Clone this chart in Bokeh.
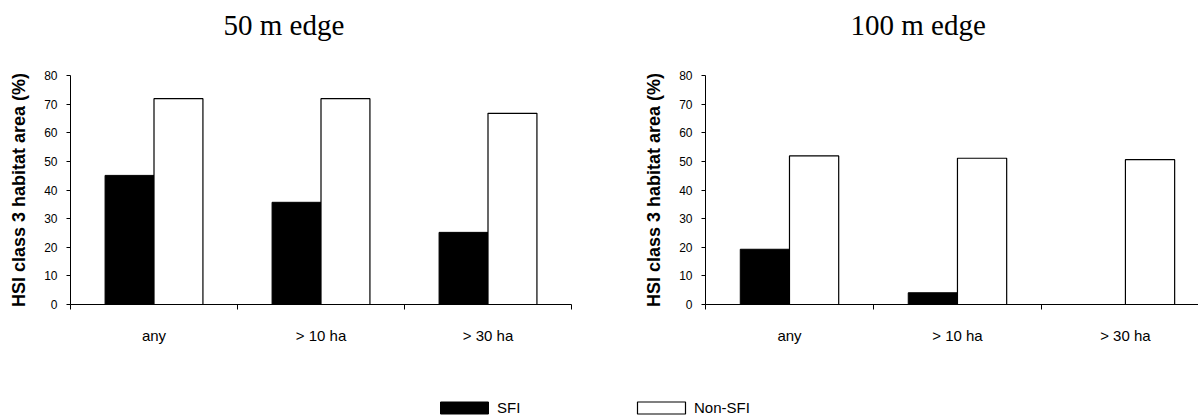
import numpy as np
from bokeh.plotting import figure
from bokeh.models import Range1d, FixedTicker, Legend, LegendItem, Label
from bokeh.layouts import column, row
from bokeh.embed import file_html
from bokeh.resources import INLINE

# ---- data ----
categories = ["any", "> 10 ha", "> 30 ha"]
sfi_50 = [45.1, 35.7, 25.2]
non_sfi_50 = [71.9, 71.9, 66.8]
sfi_100 = [19.3, 4.1, 0.0]
non_sfi_100 = [51.9, 51.1, 50.6]
y_ticks = [0, 10, 20, 30, 40, 50, 60, 70, 80]
titles = ["50 m edge", "100 m edge"]
y_label = "HSI class 3 habitat area (%)"
series_names = ["SFI", "Non-SFI"]

BAR_W = 0.293
SANS = "Liberation Sans"


def make_panel(sfi, non_sfi, width, border_left, border_right, x_end):
    p = figure(width=width, height=287, x_range=Range1d(0, x_end), y_range=Range1d(0, 80),
               toolbar_location=None, output_backend="svg",
               min_border_left=border_left, min_border_right=border_right,
               min_border_top=8, min_border_bottom=50, outline_line_color=None)

    idx = list(range(len(categories)))
    xs_sfi = [i + 0.5 - BAR_W / 2 for i in idx]
    xs_non = [i + 0.5 + BAR_W / 2 for i in idx]
    p.vbar(x=xs_sfi, top=sfi, width=BAR_W, bottom=0, fill_color="black", line_color="black", line_width=1)
    p.vbar(x=xs_non, top=non_sfi, width=BAR_W, bottom=0, fill_color="white", line_color="black", line_width=1.2)

    p.xgrid.visible = False
    p.ygrid.visible = False

    ya = p.yaxis[0]
    ya.ticker = FixedTicker(ticks=y_ticks)
    ya.axis_label = y_label
    ya.axis_label_text_font = SANS
    ya.axis_label_text_font_size = "18px"
    ya.axis_label_text_font_style = "bold"
    ya.axis_label_text_color = "black"
    ya.axis_label_standoff = 12
    ya.major_label_text_font = SANS
    ya.major_label_text_font_size = "12px"
    ya.major_label_text_color = "black"
    ya.major_label_standoff = 9
    ya.major_tick_out = 4
    ya.major_tick_in = 0
    ya.minor_tick_line_color = None
    ya.axis_line_color = "black"
    ya.major_tick_line_color = "black"

    xa = p.xaxis[0]
    xa.ticker = FixedTicker(ticks=[i + 0.5 for i in idx], minor_ticks=list(range(len(categories) + 1)))
    xa.major_label_overrides = {i + 0.5: c for i, c in zip(idx, categories)}
    xa.major_label_text_font = SANS
    xa.major_label_text_font_size = "15px"
    xa.major_label_text_color = "black"
    xa.major_label_standoff = 17
    xa.major_tick_out = 0
    xa.major_tick_in = 0
    xa.minor_tick_out = 5
    xa.minor_tick_in = 0
    xa.minor_tick_line_color = "black"
    xa.axis_line_color = "black"
    return p


# ---- title strip ----
pt = figure(width=1198, height=67, x_range=Range1d(0, 1), y_range=Range1d(0, 1),
            toolbar_location=None, output_backend="svg", min_border=0,
            x_axis_location=None, y_axis_location=None, outline_line_color=None)
pt.xgrid.visible = False
pt.ygrid.visible = False
for t, tx in zip(titles, [223, 850]):
    pt.add_layout(Label(x=tx, y=43, x_units="screen", y_units="screen", text=t,
                        text_font="Liberation Serif", text_font_size="29px",
                        text_color="black", text_align="left", text_baseline="alphabetic"))

p1 = make_panel(sfi_50, non_sfi_50, 600, 70, 29, 3.0)
p2 = make_panel(sfi_100, non_sfi_100, 598, 105, 0, 2.935)

# ---- legend strip ----
p3 = figure(width=1198, height=62, x_range=Range1d(0, 1), y_range=Range1d(0, 1),
            toolbar_location=None, output_backend="svg", min_border=0,
            x_axis_location=None, y_axis_location=None, outline_line_color=None)
p3.xgrid.visible = False
p3.ygrid.visible = False
# proxy renderers (no drawable data) used only for legend swatches
nan = np.array([np.nan])
r1 = p3.vbar(x=nan, top=nan, width=0.1, fill_color="black", line_color="black")
r2 = p3.vbar(x=nan, top=nan, width=0.1, fill_color="white", line_color="black", line_width=1.2)
legend = Legend(items=[LegendItem(label=series_names[0], renderers=[r1]),
                       LegendItem(label=series_names[1], renderers=[r2])],
                orientation="horizontal", location=(434, 0),
                glyph_width=60, glyph_height=15, label_standoff=3, label_width=132,
                spacing=2, padding=0, margin=0, border_line_color=None,
                background_fill_alpha=0, label_text_font=SANS, label_text_font_size="15px",
                label_text_color="black")
p3.add_layout(legend)

layout = column(pt, row(p1, p2), p3)
open("out.html", "w").write(file_html(layout, INLINE))
